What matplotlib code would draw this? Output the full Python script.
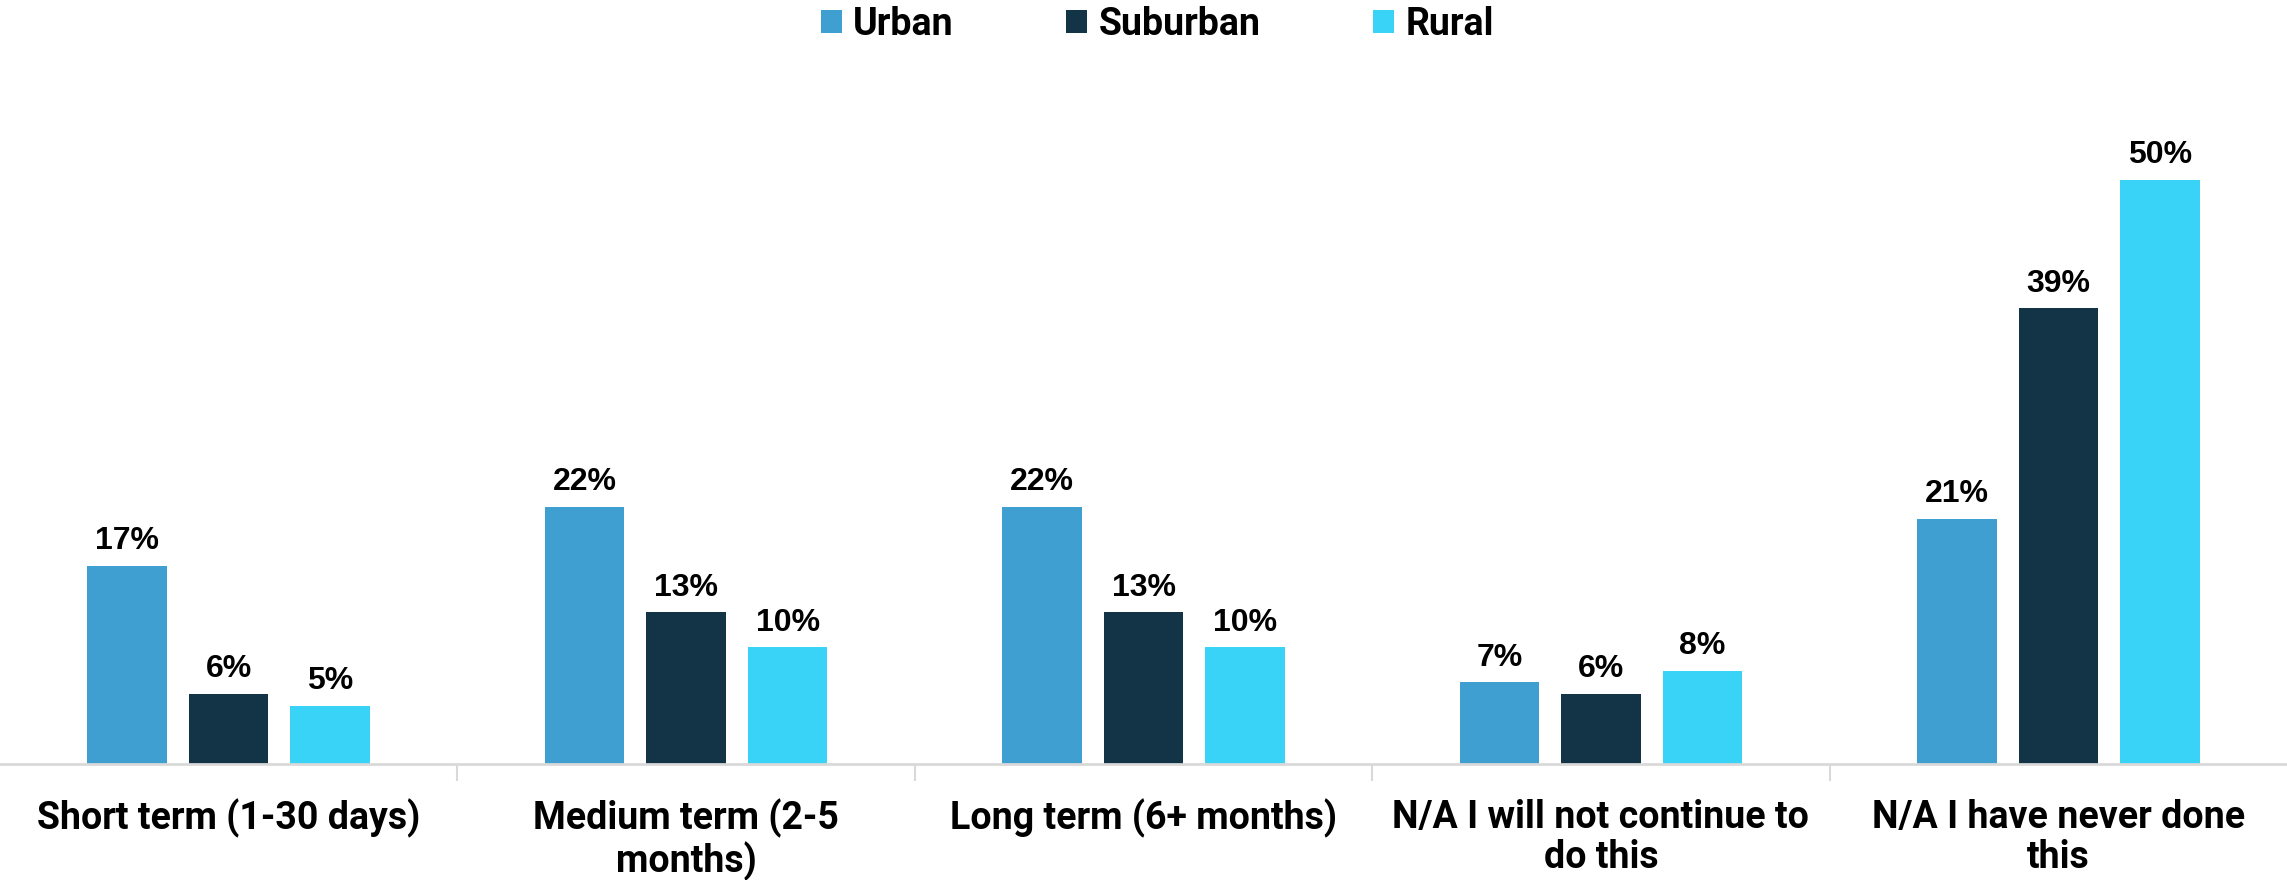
import numpy as np
import matplotlib

matplotlib.use("Agg")
import matplotlib.pyplot as plt
from matplotlib.patches import Patch

categories = ["Short term (1-30 days)", "Medium term (2-5\nmonths)",
              "Long term (6+ months)", "N/A I will not continue to\ndo this",
              "N/A I have never done\nthis"]
series_names = ["Urban", "Suburban", "Rural"]
urban = [17, 22, 22, 7, 21]
suburban = [6, 13, 13, 6, 39]
rural = [5, 10, 10, 8, 50]
colors = ["#3F9FD0", "#133347", "#38D3F7"]

CAT_FONT = ["Roboto", "DejaVu Sans"]
VAL_FONT = ["Liberation Sans", "DejaVu Sans"]

fig = plt.figure(figsize=(22.87, 8.8), dpi=100)
ax = fig.add_axes([0.0, 0.1315, 1.0, 0.74])

x = np.arange(len(categories))
width = 0.174
offset = 0.222
for i, (vals, col) in enumerate(zip([urban, suburban, rural], colors)):
    pos = x + (i - 1) * offset
    ax.bar(pos, vals, width=width, color=col, zorder=2)
    for p, v in zip(pos, vals):
        ax.annotate(f"{v}%", (p, v), xytext=(0, 7), textcoords="offset points",
                    ha="center", va="bottom", fontsize=23, fontweight="bold",
                    family=VAL_FONT, color="black")

ax.set_xlim(-0.5, len(categories) - 0.5)
ax.set_ylim(0, 55.7)
for s in ["top", "right", "left"]:
    ax.spines[s].set_visible(False)
ax.spines["bottom"].set_color("#d9d9d9")
ax.spines["bottom"].set_linewidth(2)
ax.set_yticks([])

ax.set_xticks(x)
ax.set_xticklabels(categories, fontsize=27, fontweight="bold", family=CAT_FONT,
                   linespacing=1.1, va="top")
ax.tick_params(axis="x", length=0, pad=25)
ax.set_xticks(np.arange(0.5, len(categories) - 0.5), minor=True)
ax.tick_params(axis="x", which="minor", length=12, width=1.5, color="#d9d9d9")

handles = [Patch(facecolor=c, edgecolor="none") for c in colors]
fig.legend(handles, series_names, loc="center", bbox_to_anchor=(0.506, 0.972),
           ncol=3, frameon=False, handlelength=0.56, handleheight=0.56,
           handletextpad=0.3, columnspacing=3.0,
           prop={"family": CAT_FONT, "weight": "bold", "size": 27})

fig.savefig("out.png", dpi=100)
